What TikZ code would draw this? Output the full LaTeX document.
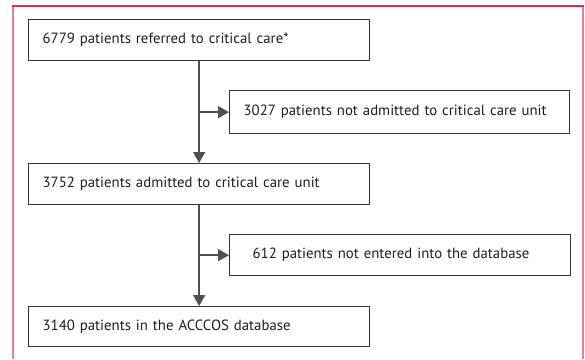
\documentclass[tikz,border=0pt]{standalone}
\usepackage{fontspec}
\setmainfont{PT Sans}
\usetikzlibrary{arrows.meta}
\definecolor{frametop}{RGB}{212,48,92}
\definecolor{frameside}{RGB}{224,128,158}
\definecolor{boxline}{RGB}{50,50,50}
\definecolor{arrline}{RGB}{80,80,80}
\definecolor{txt}{RGB}{30,30,30}
\begin{document}
\begin{tikzpicture}[x=1pt,y=-1pt,
  flowbox/.style={draw=boxline,line width=1.3pt,rectangle,anchor=north west,
    minimum height=41pt,inner xsep=14pt,inner ysep=0pt,text width=313pt,align=left,
    font=\fontsize{14.8}{17}\selectfont,text=txt},
  sidebox/.style={flowbox,text width=312pt},
  flowarrow/.style={draw=arrline,line width=1.6pt,-{Triangle[length=11pt,width=12pt]}}]
\useasboundingbox (0,0) rectangle (585,359);
\fill[white] (0,0) rectangle (585,359);
% frame
\draw[frameside,line width=1.6pt] (13,6) -- (13,359);
\draw[frameside,line width=2pt] (583,6) -- (583,359);
\draw[frametop,line width=1.2pt] (12.2,6) -- (584,6);
% boxes
\node[flowbox] (b1) at (28,19) {6779 patients referred to critical care*};
\node[sidebox,minimum height=43pt] (b2) at (229,90) {3027 patients not admitted to critical care unit};
\node[flowbox] (b3) at (28,163) {3752 patients admitted to critical care unit};
\node[flowbox,inner xsep=23pt,text width=295pt] (b4) at (229,234) {612 patients not entered into the database};
\node[flowbox,minimum height=40pt] (b5) at (28,306) {3140 patients in the ACCCOS database};
% connectors
\draw[flowarrow] (b1.south) -- (b3.north);
\draw[flowarrow] (b2.west -| b1.south) -- (b2.west);
\draw[flowarrow] (b3.south) -- (b5.north);
\draw[flowarrow] (b4.west -| b3.south) -- (b4.west);
\end{tikzpicture}
\end{document}
